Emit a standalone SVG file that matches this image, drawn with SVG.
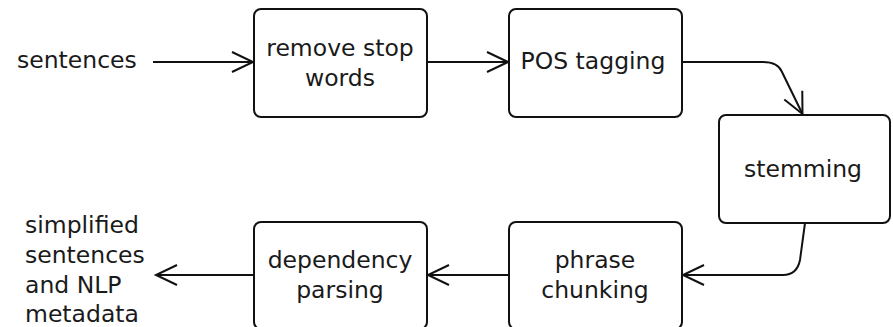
<svg xmlns="http://www.w3.org/2000/svg" width="893" height="327" viewBox="0 0 893 327">
  <style>
    .box { fill: #ffffff; stroke: #111111; stroke-width: 2; }
    .lbl { font-family: "DejaVu Sans", "Liberation Sans", sans-serif; font-size: 23.5px; fill: #1a1a1a; }
    .mid { text-anchor: middle; }
    .edge { fill: none; stroke: #111111; stroke-width: 2; }
  </style>
  <defs>
    <marker id="open-arrow" markerUnits="userSpaceOnUse" markerWidth="30" markerHeight="30" refX="0" refY="0" viewBox="-25 -15 30 30" orient="auto" overflow="visible">
      <path d="M-21,-10 L0,0 L-21,10" fill="none" stroke="#111111" stroke-width="2"/>
    </marker>
  </defs>

  <rect width="893" height="327" fill="#ffffff"/>

  <g id="connectors">
    <path class="edge" d="M153,62 L253,62" marker-end="url(#open-arrow)"/>
    <path class="edge" d="M427,62 L508,62" marker-end="url(#open-arrow)"/>
    <path class="edge" d="M682,62 L763,62 Q778,62 782,72 L802.5,114" marker-end="url(#open-arrow)"/>
    <path class="edge" d="M805,223 L800,260 Q797,275 783,275 L683,275" marker-end="url(#open-arrow)"/>
    <path class="edge" d="M509,275 L428,275" marker-end="url(#open-arrow)"/>
    <path class="edge" d="M254,275 L156,275" marker-end="url(#open-arrow)"/>
  </g>

  <g id="input">
    <text class="lbl" x="17" y="68">sentences</text>
  </g>

  <g id="remove-stop-words">
    <rect class="box" x="254" y="9" width="173" height="108" rx="7"/>
    <text class="lbl mid" x="340" y="56">remove stop</text>
    <text class="lbl mid" x="340" y="86">words</text>
  </g>

  <g id="pos-tagging">
    <rect class="box" x="509" y="9" width="173" height="108" rx="7"/>
    <text class="lbl mid" x="593" y="69">POS tagging</text>
  </g>

  <g id="stemming">
    <rect class="box" x="719" y="115" width="171" height="108" rx="7"/>
    <text class="lbl mid" x="803" y="177">stemming</text>
  </g>

  <g id="phrase-chunking">
    <rect class="box" x="509" y="222" width="173" height="107" rx="7"/>
    <text class="lbl mid" x="595" y="268">phrase</text>
    <text class="lbl mid" x="595" y="298">chunking</text>
  </g>

  <g id="dependency-parsing">
    <rect class="box" x="254" y="222" width="173" height="107" rx="7"/>
    <text class="lbl mid" x="340" y="268">dependency</text>
    <text class="lbl mid" x="340" y="298">parsing</text>
  </g>

  <g id="output">
    <text class="lbl" x="25" y="233">simplified</text>
    <text class="lbl" x="25" y="263">sentences</text>
    <text class="lbl" x="25" y="293">and NLP</text>
    <text class="lbl" x="25" y="322">metadata</text>
  </g>
</svg>
